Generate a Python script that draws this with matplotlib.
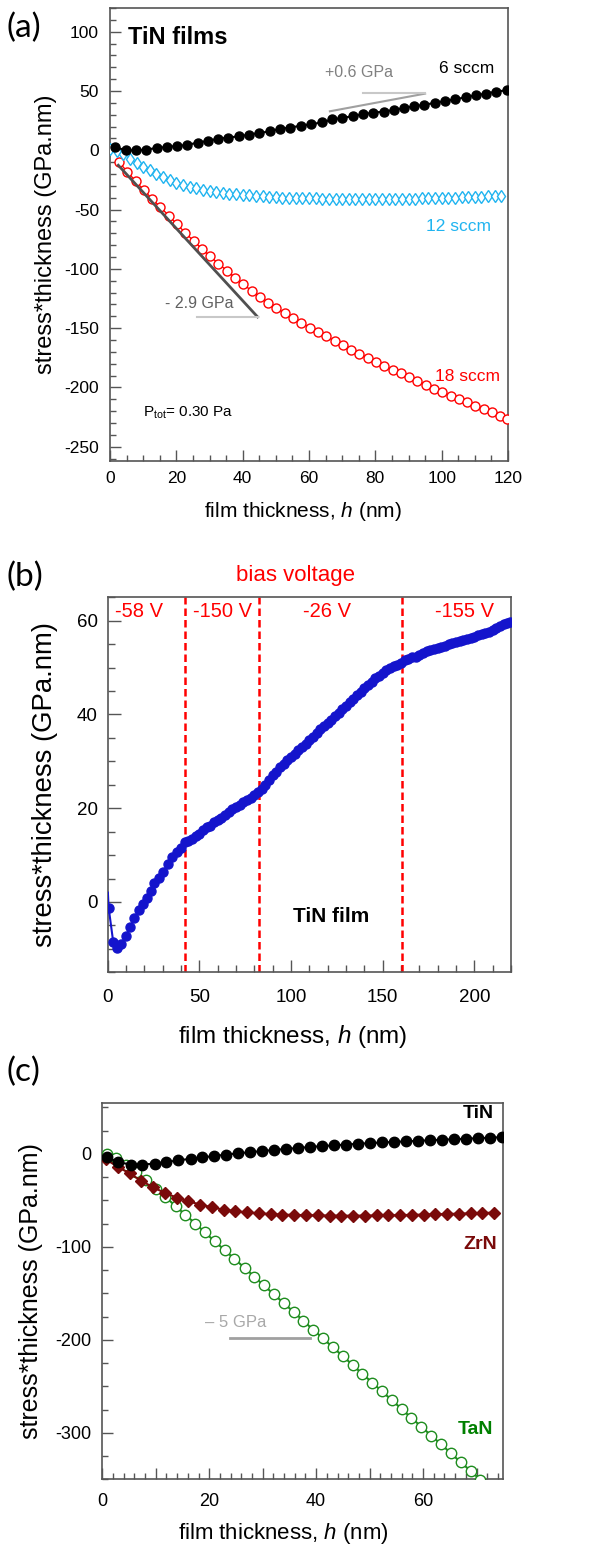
import matplotlib
matplotlib.use("Agg")
import matplotlib.pyplot as plt
from matplotlib.ticker import MultipleLocator, FuncFormatter

plt.rcParams['font.family'] = ['Liberation Sans', 'DejaVu Sans']
plt.rcParams['mathtext.fontset'] = 'custom'
plt.rcParams['mathtext.rm'] = 'Liberation Sans'
plt.rcParams['mathtext.it'] = 'Liberation Sans:italic'
plt.rcParams['axes.unicode_minus'] = False

# ---------------- Panel (a) data: TiN films ----------------
a_x6 = [1.5, 4.7, 7.8, 10.8, 14.1, 17.1, 20.2, 23.3, 26.4, 29.5, 32.6, 35.7, 38.8, 41.9, 45.0,
        48.2, 51.3, 54.4, 57.5, 60.6, 63.9, 67.0, 70.1, 73.2, 76.3, 79.4, 82.5, 85.6, 88.7, 91.7,
        94.8, 97.9, 101.0, 104.1, 107.2, 110.3, 113.3, 116.4, 119.6]
a_y6 = [2.8, 0.0, 0.0, 0.5, 2.0, 2.8, 3.7, 4.5, 6.5, 7.9, 9.8, 10.7, 11.8, 13.2, 14.6,
        16.0, 18.3, 19.1, 20.8, 21.9, 23.6, 26.0, 27.4, 28.7, 30.4, 31.8, 32.6, 34.0, 35.7, 37.1,
        38.5, 39.9, 41.6, 43.0, 44.7, 46.4, 47.8, 49.5, 50.6]

a_x12 = [0, 2, 4, 6, 8, 10, 12, 14, 16, 18, 20, 22, 24, 26, 28, 30, 32, 34, 36, 38, 40, 42, 44, 46,
         48, 50, 52, 54, 56, 58, 60, 62, 64, 66, 68, 70, 72, 74, 76, 78, 80, 82, 84, 86, 88, 90,
         92, 94, 96, 98, 100, 102, 104, 106, 108, 110, 112, 114, 116, 118]
a_y12 = [1.5, -0.5, -3.5, -7.0, -10.5, -14.0, -17.0, -20.0, -22.8, -25.3, -27.3, -29.0, -30.6,
         -32.0, -33.2, -34.2, -35.1, -35.9, -36.6, -37.2, -37.7, -38.1, -38.5, -38.9, -39.2, -39.5,
         -39.8, -40.0, -40.2, -40.4, -40.5, -40.6, -40.7, -40.8, -40.9, -41.0, -41.0, -41.1, -41.1,
         -41.1, -41.1, -41.1, -41.0, -41.0, -40.9, -40.8, -40.7, -40.6, -40.5, -40.3, -40.2, -40.0,
         -39.8, -39.6, -39.4, -39.2, -39.0, -38.8, -38.6, -38.3]

a_x18 = [2.7, 5.2, 7.7, 10.2, 12.7, 15.2, 17.7, 20.2, 22.7, 25.2, 27.7, 30.2, 32.7, 35.2, 37.7,
         40.2, 42.7, 45.2, 47.7, 50.2, 52.7, 55.2, 57.7, 60.2, 62.7, 65.2, 67.7, 70.2, 72.7, 75.2,
         77.7, 80.2, 82.7, 85.2, 87.7, 90.2, 92.7, 95.2, 97.7, 100.2, 102.7, 105.2, 107.7, 110.2,
         112.7, 115.2, 117.7, 119.8]
a_y18 = [-10.0, -18.0, -26.0, -33.5, -41.0, -48.0, -55.0, -62.5, -69.5, -76.5, -83.0, -89.5,
         -95.5, -101.5, -107.5, -113.0, -118.5, -123.5, -128.5, -133.0, -137.5, -141.5, -145.5,
         -149.5, -153.5, -157.0, -160.5, -164.5, -168.0, -171.5, -175.0, -178.5, -182.0, -185.0,
         -188.0, -191.5, -194.5, -197.5, -201.0, -204.0, -207.0, -210.0, -212.5, -215.5, -218.0,
         -221.0, -224.0, -226.5]

a_slope_neg_x = [2.5, 44.5]
a_slope_neg_y = [-12.6, -140.5]
a_base_neg_x = [26.1, 44.5]
a_base_neg_y = [-140.5, -140.5]
a_slope_pos_x = [66.3, 95.0]
a_slope_pos_y = [32.9, 47.8]
a_base_pos_x = [76.4, 95.0]
a_base_pos_y = [48.2, 48.2]

# ---------------- Panel (b) data: TiN film, bias voltage ----------------
b_x = [0.1, 0.5, 3.0, 5.3, 7.4, 9.8, 12.2, 14.6, 17.1, 19.5, 21.3, 23.5, 25.5, 28.2, 30.4, 32.8,
       35.0, 37.7, 39.9, 42.3, 44, 46, 48, 50, 52, 54, 56, 58, 60, 62, 64, 66, 68, 70, 72, 74,
       76, 78, 80, 82, 84, 86, 88, 90, 92, 94, 96, 98, 100, 102, 104, 106, 108, 110, 112, 114,
       116, 118, 120, 122, 124, 126, 128, 130, 132, 134, 136, 138, 140, 142, 144, 146, 148, 150,
       152, 154, 156, 158, 160, 162, 164, 166, 168, 170, 172, 174, 176, 178, 180, 182, 184, 186,
       188, 190, 192, 194, 196, 198, 200, 202, 204, 206, 208, 210, 212, 214, 216, 218, 219.5]
b_y = [2.0, -1.2, -8.5, -9.8, -9.0, -7.3, -5.4, -3.4, -1.8, -0.5, 0.9, 2.3, 4.0, 5.2, 6.4, 8.2,
       9.5, 10.6, 11.6, 12.7, 13.0, 13.5, 14.0, 14.5, 15.3, 15.9, 16.2, 17.0, 17.4, 17.9, 18.5,
       19.3, 19.8, 20.2, 20.7, 21.3, 21.8, 22.2, 22.8, 23.4, 24.2, 25.0, 26.0, 27.0, 27.8, 28.7,
       29.4, 30.2, 31.0, 31.6, 32.4, 33.1, 33.8, 34.6, 35.3, 36.0, 36.8, 37.5, 38.2, 38.9, 39.6,
       40.3, 41.1, 41.8, 42.6, 43.3, 44.1, 44.8, 45.6, 46.3, 47.0, 47.7, 48.3, 48.9, 49.4, 49.9,
       50.3, 50.6, 51.0, 51.6, 51.9, 52.2, 52.3, 52.6, 53.1, 53.5, 53.7, 54.0, 54.1, 54.3, 54.7,
       55.0, 55.3, 55.4, 55.6, 55.9, 56.1, 56.4, 56.6, 56.9, 57.2, 57.4, 57.7, 58.1, 58.5, 58.8,
       59.2, 59.5, 59.7]
b_switch_x = [42.3, 82.4, 160.3]
b_bias_labels = ['-58 V', '-150 V', '-26 V', '-155 V']
b_bias_label_x = [17, 62.8, 119.4, 194.5]

# ---------------- Panel (c) data: TiN, ZrN, TaN ----------------
c_tin_x = [0.8, 3.0, 5.3, 7.5, 9.8, 12.0, 14.2, 16.5, 18.7, 20.9, 23.2, 25.4, 27.7, 29.9, 32.2,
           34.4, 36.6, 38.9, 41.1, 43.4, 45.6, 47.8, 50.1, 52.3, 54.6, 56.8, 59.0, 61.3, 63.5,
           65.8, 68.0, 70.2, 72.5, 74.7]
c_tin_y = [-3.5, -9.0, -11.5, -11.5, -10.5, -8.8, -7.0, -5.3, -3.8, -2.4, -0.8, 0.6, 1.8, 3.0,
           4.2, 5.3, 6.3, 7.4, 8.3, 9.2, 10.0, 10.8, 11.5, 12.2, 12.8, 13.4, 14.0, 14.6, 15.2,
           15.7, 16.3, 16.8, 17.4, 17.9]
c_zrn_x = [0.7, 2.9, 5.1, 7.3, 9.5, 11.7, 13.9, 16.1, 18.3, 20.5, 22.7, 24.9, 27.1, 29.3, 31.5,
           33.7, 35.9, 38.1, 40.3, 42.5, 44.7, 46.9, 49.1, 51.3, 53.5, 55.7, 57.9, 60.1, 62.3,
           64.5, 66.7, 68.9, 71.1, 73.3]
c_zrn_y = [-6, -14, -21, -29, -36, -42, -47, -51, -54.5, -57.5, -60, -61.8, -63, -64, -64.8,
           -65.3, -65.7, -66, -66.2, -66.4, -66.5, -66.5, -66.4, -66.3, -66.1, -65.9, -65.6,
           -65.3, -65, -64.7, -64.3, -64, -63.6, -63.2]
c_tan_x = [0.8, 2.6, 4.5, 6.3, 8.2, 10.0, 11.8, 13.7, 15.5, 17.4, 19.2, 21.0, 22.9, 24.7, 26.6,
           28.4, 30.2, 32.1, 33.9, 35.8, 37.6, 39.4, 41.3, 43.1, 45.0, 46.8, 48.6, 50.5, 52.3,
           54.2, 56.0, 57.8, 59.7, 61.5, 63.4, 65.2, 67.0, 68.9, 70.7]
c_tan_y = [0, -5, -12, -20, -28.5, -37.5, -46.5, -56, -65.5, -75, -84.5, -94, -103.5, -113,
           -122.5, -132, -141.5, -151, -160.5, -170, -179.5, -189, -198.5, -208, -217.5, -227,
           -236.5, -246, -255.5, -265, -274.5, -284, -293.5, -303, -312.5, -322, -331.5, -341,
           -350.5]
c_base_x = [23.8, 38.8]
c_base_y = [-198.4, -198.4]

# ---------------- Figure ----------------
W, H = 590, 1546
fig = plt.figure(figsize=(W / 100, H / 100), dpi=100)

SPINE = '#555555'


def rect(l, t, r, b):
    return [l / W, 1 - b / H, (r - l) / W, (b - t) / H]


def style(ax, tick_fs, pad_x, pad_y, maj=8, mnr=4):
    for s in ax.spines.values():
        s.set_color(SPINE)
        s.set_linewidth(1.2)
    ax.tick_params(which='both', direction='in', top=False, right=False, colors=SPINE,
                   labelcolor='black', labelsize=tick_fs, width=1.0)
    ax.tick_params(which='major', length=maj)
    ax.tick_params(which='minor', length=mnr)
    ax.tick_params(axis='x', pad=pad_x)
    ax.tick_params(axis='y', pad=pad_y)


# ---- (a)
ax = fig.add_axes(rect(110, 8, 508, 461))
ax.plot(a_x18, a_y18, '-', color='red', lw=1.0, marker='o', ms=6.5, mfc='white',
        mec='red', mew=1.0, zorder=3)
ax.plot(a_x12, a_y12, '-', color='#20B4F0', lw=0.8, marker='d', ms=6.5, mfc='white',
        mec='#20B4F0', mew=1.0, zorder=3)
ax.plot(a_x6, a_y6, '-', color='black', lw=1.5, marker='o', ms=6.5, mfc='black',
        mec='black', zorder=3)
ax.plot(a_slope_neg_x, a_slope_neg_y, '-', color='#505050', lw=2.0, zorder=4)
ax.plot(a_base_neg_x, a_base_neg_y, '-', color='#c8c8c8', lw=1.5, zorder=4)
ax.plot(a_slope_pos_x, a_slope_pos_y, '-', color='#a0a0a0', lw=1.5, zorder=4)
ax.plot(a_base_pos_x, a_base_pos_y, '-', color='#c8c8c8', lw=1.5, zorder=4)
ax.set_xlim(0, 120)
ax.set_ylim(-262, 120)
ax.xaxis.set_major_locator(MultipleLocator(20))
ax.xaxis.set_minor_locator(MultipleLocator(5))
ax.yaxis.set_major_locator(MultipleLocator(50))
ax.yaxis.set_minor_locator(MultipleLocator(10))
style(ax, 12.5, 7, 8)
ax.set_xlabel('film thickness, $\\it{h}$ (nm)', fontsize=15)
ax.set_ylabel('stress*thickness (GPa.nm)', fontsize=17)
ax.xaxis.set_label_coords(0.485, -0.086)
ax.yaxis.set_label_coords(-0.133, 0.5)
ax.text(5.5, 95, 'TiN films', fontsize=17, fontweight='bold', va='center', ha='left')
ax.text(116, 69, '6 sccm', fontsize=12.5, color='black', ha='right', va='center')
ax.text(115, -64, '12 sccm', fontsize=12.5, color='#20B4F0', ha='right', va='center')
ax.text(117.5, -190.5, '18 sccm', fontsize=12.5, color='red', ha='right', va='center')
ax.text(75, 66, '+0.6 GPa', fontsize=11.5, color='#808080', ha='center', va='center')
ax.text(27, -129, '- 2.9 GPa', fontsize=11.5, color='#606060', ha='center', va='center')
ax.text(9.8, -221, 'P$_{\\rm tot}$= 0.30 Pa', fontsize=11, ha='left', va='center')
fig.text(6 / W, 1 - 28 / H, '(a)', fontsize=24, family='Lato', va='center', ha='left')

# ---- (b)
ax = fig.add_axes(rect(107.7, 597.3, 511, 972.3))
for xv in b_switch_x:
    ax.axvline(xv, color='red', lw=1.8, ls=(0, (3, 1.6)), zorder=2)
ax.plot(b_x, b_y, '-', color='#1414CC', lw=1.5, zorder=3)
ax.plot(b_x[1:], b_y[1:], 'o', color='#1414CC', ms=6.5, zorder=3)
ax.set_xlim(0, 220)
ax.set_ylim(-15, 65)
ax.xaxis.set_major_locator(MultipleLocator(50))
ax.xaxis.set_minor_locator(MultipleLocator(10))
ax.yaxis.set_major_locator(MultipleLocator(20))
ax.yaxis.set_minor_locator(MultipleLocator(5))
style(ax, 13.5, 12, 7, maj=9, mnr=5)
ax.set_xlabel('film thickness, $\\it{h}$ (nm)', fontsize=17.5)
ax.set_ylabel('stress*thickness (GPa.nm)', fontsize=19.8)
ax.xaxis.set_label_coords(0.458, -0.135)
ax.yaxis.set_label_coords(-0.124, 0.5)
for lbl, xv in zip(b_bias_labels, b_bias_label_x):
    ax.text(xv, 62, lbl, fontsize=14.5, color='red', ha='center', va='center')
ax.text(122, -3, 'TiN film', fontsize=15, fontweight='bold', ha='center', va='center')
fig.text(296 / W, 1 - 575 / H, 'bias voltage', fontsize=16, color='red', ha='center',
         va='center')
fig.text(6 / W, 1 - 577 / H, '(b)', fontsize=24, family='Lato', va='center', ha='left')

# ---- (c)
ax = fig.add_axes(rect(102.3, 1102.7, 503.3, 1479.3))
ax.plot(c_tan_x, c_tan_y, '-', color='#1E8C1E', lw=1.5, marker='o', ms=7.5, mfc='white',
        mec='#1E8C1E', mew=1.0, zorder=3)
ax.plot(c_zrn_x, c_zrn_y, '-', color='#7A0A0A', lw=1.5, marker='D', ms=6.5, mfc='#7A0A0A',
        mec='#7A0A0A', zorder=4)
ax.plot(c_tin_x, c_tin_y, '-', color='black', lw=1.5, marker='o', ms=7.5, mfc='black',
        mec='black', zorder=5)
ax.plot(c_base_x, c_base_y, '-', color='#a0a0a0', lw=2.0, zorder=2)
ax.set_xlim(0, 75)
ax.set_ylim(-350, 55)
ax.xaxis.set_major_locator(MultipleLocator(10))
ax.xaxis.set_minor_locator(MultipleLocator(2))
ax.xaxis.set_major_formatter(FuncFormatter(lambda v, p: f'{v:.0f}' if round(v) % 20 == 0 else ''))
ax.yaxis.set_major_locator(MultipleLocator(100))
ax.yaxis.set_minor_locator(MultipleLocator(25))
style(ax, 13, 10, 8)
ax.set_xlabel('film thickness, $\\it{h}$ (nm)', fontsize=16)
ax.set_ylabel('stress*thickness (GPa.nm)', fontsize=18)
ax.xaxis.set_label_coords(0.451, -0.111)
ax.yaxis.set_label_coords(-0.148, 0.5)
ax.text(73.3, 43, 'TiN', fontsize=14, fontweight='bold', color='black', ha='right', va='center')
ax.text(73.9, -97, 'ZrN', fontsize=14, fontweight='bold', color='#7A0A0A', ha='right',
        va='center')
ax.text(73.1, -296, 'TaN', fontsize=14, fontweight='bold', color='#008000', ha='right',
        va='center')
ax.text(24.9, -181, '\u2013 5 GPa', fontsize=12, color='#a8a8a8', ha='center', va='center')
fig.text(6 / W, 1 - 1072 / H, '(c)', fontsize=24, family='Lato', va='center', ha='left')

fig.savefig('out.png', dpi=100)
